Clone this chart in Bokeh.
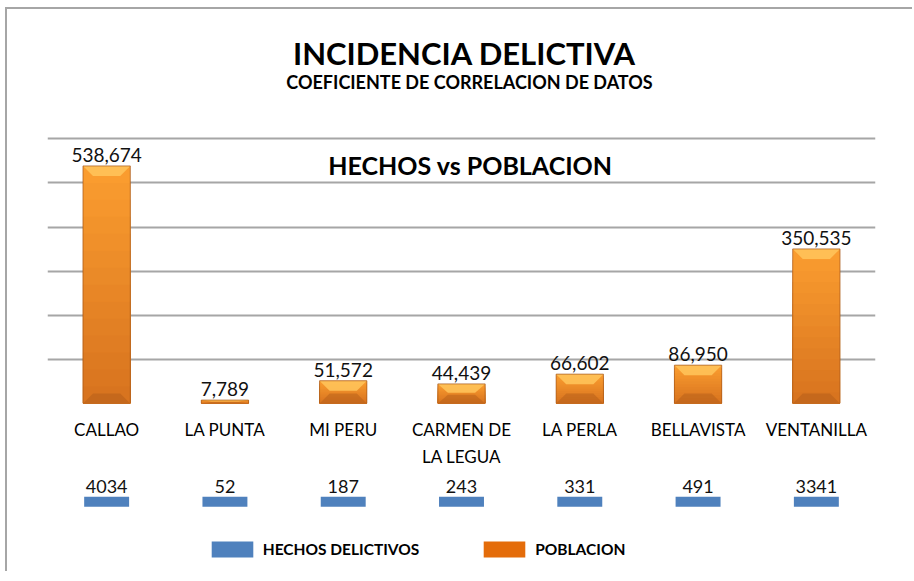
from bokeh.plotting import figure
from bokeh.models import (ColumnDataSource, Range1d, FactorRange, FixedTicker,
                          LabelSet, Legend, LegendItem)
from bokeh.layouts import column
from bokeh.core.properties import value
from bokeh.embed import file_html
from bokeh.resources import INLINE

# ---------------- data ----------------
distritos = ["CALLAO", "LA PUNTA", "MI PERU", "CARMEN DE\nLA LEGUA",
             "LA PERLA", "BELLAVISTA", "VENTANILLA"]
poblacion = [538674, 7789, 51572, 44439, 66602, 86950, 350535]
hechos = [4034, 52, 187, 243, 331, 491, 3341]
y_ticks = [0, 100000, 200000, 300000, 400000, 500000, 600000]
serie_hechos = "HECHOS DELICTIVOS"
serie_poblacion = "POBLACION"
titulo = "INCIDENCIA DELICTIVA"
subtitulo = "COEFICIENTE DE CORRELACION DE DATOS"
titulo_interno = "HECHOS vs POBLACION"

FONT = "Lato"
W = 905
FRAME_W = 828
ML = 40
FRAME_H = 264.4
PX = FRAME_H / y_ticks[-1]          # pixels per unit
MB_TOP = 20
TOP_SPACE = 393.7 - MB_TOP           # frame pixels from top of frame to value 0
Y_TOP = TOP_SPACE / PX

# ---------------- top figure: POBLACION ----------------
pA = figure(x_range=FactorRange(factors=distritos, range_padding=0),
            y_range=Range1d(0, Y_TOP),
            width=W, height=464, output_backend="svg", toolbar_location=None,
            min_border_left=ML, min_border_right=W - ML - FRAME_W,
            min_border_top=MB_TOP, min_border_bottom=70)
pA.outline_line_color = None
pA.background_fill_color = None
pA.border_fill_color = None

pA.yaxis.visible = False
pA.xgrid.visible = False
pA.ygrid.ticker = FixedTicker(ticks=y_ticks)
pA.ygrid.grid_line_color = "#A6A6A6"
pA.ygrid.grid_line_width = 2

pA.xaxis.axis_line_color = None
pA.xaxis.major_tick_line_color = None
pA.xaxis.minor_tick_line_color = None
pA.xaxis.major_label_text_font = FONT
pA.xaxis.major_label_text_font_size = "17px"
pA.xaxis.major_label_text_color = "#000000"
pA.xaxis.major_label_standoff = 9
pA.xaxis.major_label_text_line_height = 1.3

# titles (centred over the middle category, in the space above the gridlines)
def px_to_val(px_above_zero):
    return px_above_zero / PX

src_t = ColumnDataSource(dict(
    x=[distritos[3]] * 3,
    y=[px_to_val(350.1), px_to_val(321.4), px_to_val(238.7)],
    t=[titulo, subtitulo, titulo_interno],
    size=["31px", "18px", "25px"],
    dx=[3, 8, 9]))
pA.add_layout(LabelSet(x="x", y="y", text="t", source=src_t, x_offset="dx",
                       text_align="center", text_baseline="middle",
                       text_font=value(FONT), text_font_style="bold",
                       text_font_size="size", text_color="#000000"))

# bars with a vertical gradient (lighter at top)
def mix(c1, c2, t):
    a = [int(c1[i:i + 2], 16) for i in (1, 3, 5)]
    b = [int(c2[i:i + 2], 16) for i in (1, 3, 5)]
    return "#%02x%02x%02x" % tuple(round(a[k] + (b[k] - a[k]) * t) for k in range(3))

TOP_C = "#FA9C2F"
BOTTOM_C = "#D8741F"
NB = 14
for i in range(NB):
    src = ColumnDataSource(dict(d=distritos,
                                t=[v * (NB - i) / NB for v in poblacion]))
    pA.vbar(x="d", bottom=0, top="t", width=0.4, source=src,
            fill_color=mix(TOP_C, BOTTOM_C, i / (NB - 1)), line_color=None)

# bevels (light top, dark bottom) derived from the bar values
bev = [min(v * 0.45, 10 / PX) for v in poblacion]
ins = 0.085
trap_xs = [[[d, -0.2], [d, 0.2], [d, 0.2 - ins], [d, -0.2 + ins]] for d in distritos]
top_ys = [[v, v, v - h, v - h] for v, h in zip(poblacion, bev)]
bot_ys = [[0, 0, h, h] for h in bev]
pA.patches(xs=trap_xs, ys=top_ys, fill_color="#FFC55C", fill_alpha=0.85, line_color=None)
pA.patches(xs=trap_xs, ys=bot_ys, fill_color="#B05A18", fill_alpha=0.45, line_color=None)

src_bar = ColumnDataSource(dict(d=distritos, pob=poblacion,
                                txt=[f"{v:,}" for v in poblacion]))
pA.vbar(x="d", top="pob", width=0.4, source=src_bar,
        fill_alpha=0, line_color="#A5571A", line_width=1, line_alpha=0.7)

pA.add_layout(LabelSet(x="d", y="pob", text="txt", source=src_bar,
                       text_align="center", text_baseline="bottom", y_offset=4,
                       text_font=value(FONT), text_font_size="19px",
                       text_color="#111111"))

# ---------------- bottom figure: HECHOS DELICTIVOS + legend row ----------------
pB = figure(x_range=pA.x_range,
            y_range=FactorRange(factors=[serie_poblacion, serie_hechos], range_padding=0),
            width=W, height=98, output_backend="svg", toolbar_location=None,
            min_border_left=ML, min_border_right=W - ML - FRAME_W,
            min_border_top=5, min_border_bottom=0)
pB.axis.visible = False
pB.grid.visible = False
pB.outline_line_color = None
pB.background_fill_color = None
pB.border_fill_color = None

src_h = ColumnDataSource(dict(d=distritos, row=[serie_hechos] * len(distritos),
                              txt=[str(v) for v in hechos]))
rB = pB.rect(x="d", y="row", width=0.38, height=10, height_units="screen",
             source=src_h, fill_color="#4F81BD", line_color=None)
pB.add_layout(LabelSet(x="d", y="row", text="txt", source=src_h,
                       text_align="center", text_baseline="bottom", y_offset=9,
                       text_font=value(FONT), text_font_size="18px",
                       text_color="#111111"))

# POBLACION proxy for the legend swatch (zero-height marks, nothing visible)
src_p = ColumnDataSource(dict(d=distritos, row=[serie_poblacion] * len(distritos),
                              pob=poblacion))
rO = pB.rect(x="d", y="row", width=0.38, height=0, height_units="screen",
             source=src_p, fill_color="#E46C0A", line_color=None)

legend = Legend(items=[LegendItem(label=serie_hechos, renderers=[rB]),
                       LegendItem(label=serie_poblacion, renderers=[rO])],
                orientation="horizontal", glyph_width=52, glyph_height=20,
                label_standoff=5, spacing=59, padding=2, margin=0,
                label_text_font=FONT, label_text_font_style="bold",
                label_text_font_size="15.5px", label_text_color="#000000",
                border_line_color=None, background_fill_alpha=0,
                location=(158.7, 12.5))
pB.add_layout(legend)

layout = column(pA, pB, spacing=0, margin=(7, 0, 0, 5),
                styles={"border-top": "2px solid #A6A6A6",
                        "border-left": "2px solid #A6A6A6"})

open("out.html", "w").write(file_html(layout, INLINE))
